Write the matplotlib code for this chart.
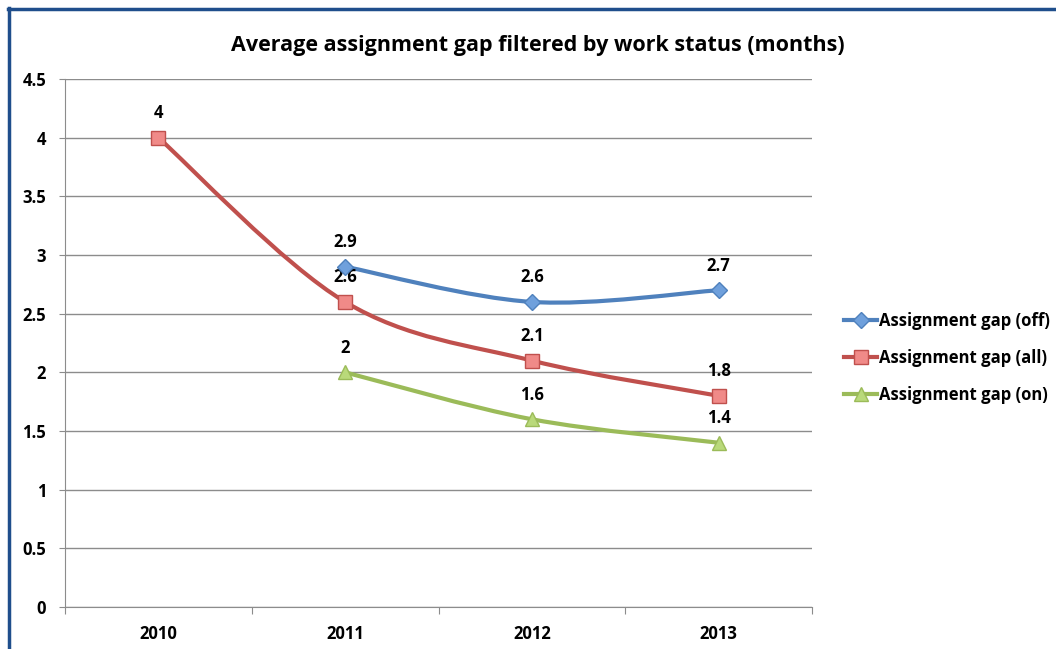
import numpy as np
import matplotlib.pyplot as plt
from matplotlib.path import Path
from matplotlib.patches import PathPatch
from matplotlib.lines import Line2D

plt.rcParams['font.family'] = ['Open Sans', 'DejaVu Sans']
plt.rcParams['font.weight'] = 'bold'

years = ['2010', '2011', '2012', '2013']
gap_off = [None, 2.9, 2.6, 2.7]
gap_all = [4.0, 2.6, 2.1, 1.8]
gap_on = [None, 2.0, 1.6, 1.4]

series = [
    ('Assignment gap (off)', gap_off, '#4F81BD', '#6FA0DC', 'D', 8),
    ('Assignment gap (all)', gap_all, '#C0504D', '#F08A88', 's', 10),
    ('Assignment gap (on)', gap_on, '#9BBB59', '#B9D97A', '^', 10),
]


def smooth_path(xs, ys):
    # Catmull-Rom style cubic Bezier through the points
    pts = np.column_stack([xs, ys]).astype(float)
    verts = [pts[0]]
    codes = [Path.MOVETO]
    n = len(pts)
    for i in range(n - 1):
        p0 = pts[max(i - 1, 0)]
        p1 = pts[i]
        p2 = pts[i + 1]
        p3 = pts[min(i + 2, n - 1)]
        c1 = p1 + (p2 - p0) / 6.0
        c2 = p2 - (p3 - p1) / 6.0
        verts += [c1, c2, p2]
        codes += [Path.CURVE4] * 3
    return Path(verts, codes)


fig = plt.figure(figsize=(10.56, 6.49), dpi=100)
ax = fig.add_axes([65 / 1056, 42 / 649, 747 / 1056, 528 / 649])

handles = []
for label, vals, color, fill, marker, ms in series:
    xs = [i for i, v in enumerate(vals) if v is not None]
    ys = [v for v in vals if v is not None]
    ax.add_patch(PathPatch(smooth_path(xs, ys), facecolor='none',
                           edgecolor=color, lw=3.0, zorder=3,
                           capstyle='round', joinstyle='round'))
    ax.plot(xs, ys, linestyle='none', marker=marker, ms=ms,
            markerfacecolor=fill, markeredgecolor=color, mew=1.0, zorder=4)
    for x, y in zip(xs, ys):
        ax.annotate(f'{y:g}', (x, y), xytext=(0, 14), textcoords='offset points',
                    ha='center', va='baseline', fontsize=12, fontweight='bold')
    handles.append(Line2D([], [], color=color, lw=3.0, marker=marker,
                          ms=ms, markerfacecolor=fill,
                          markeredgecolor=color, label=label))

ax.set_xlim(-0.5, 3.5)
ax.set_ylim(0, 4.5)
ax.set_yticks(np.arange(0, 4.51, 0.5))
ax.set_yticklabels([f'{v:g}' for v in np.arange(0, 4.51, 0.5)])
ax.yaxis.grid(True, color='#8C8C8C', lw=1.0)
ax.set_axisbelow(True)

ax.set_xticks([-0.5, 0.5, 1.5, 2.5, 3.5])
ax.set_xticklabels([])
ax.set_xticks(range(len(years)), minor=True)
ax.set_xticklabels(years, minor=True)
ax.tick_params(axis='x', which='major', length=5, color='#8C8C8C', direction='out')
ax.tick_params(axis='x', which='minor', length=0, pad=13, labelsize=12)
ax.tick_params(axis='y', length=4.5, color='#8C8C8C', pad=9, labelsize=12)

for side in ['top', 'right']:
    ax.spines[side].set_visible(False)
for side in ['left', 'bottom']:
    ax.spines[side].set_color('#8C8C8C')

fig.text(538 / 1056, 1 - 45 / 649, 'Average assignment gap filtered by work status (months)',
         ha='center', va='center', fontsize=15.5, fontweight='bold')

fig.legend(handles=handles, loc='center left', bbox_to_anchor=(829 / 1056, 1 - 358 / 649),
           frameon=False, fontsize=12, handlelength=2.0, handletextpad=0.1,
           labelspacing=1.15)

# outer frame along the top and left edges
fig.add_artist(Line2D([8 / 1056, 1], [1 - 9 / 649, 1 - 9 / 649], color='#1F4E8C', lw=2.5))
fig.add_artist(Line2D([9 / 1056, 9 / 1056], [0, 1 - 8 / 649], color='#1F4E8C', lw=2.5))

fig.savefig('out.png', dpi=100)
